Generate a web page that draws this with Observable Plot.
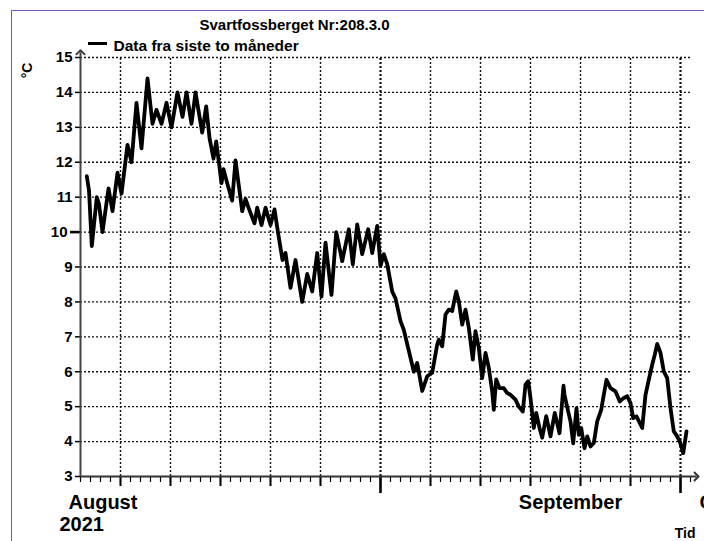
<!DOCTYPE html>
<html>
<head>
<meta charset="utf-8">
<script src="https://cdn.jsdelivr.net/npm/d3@7"></script>
<script src="https://cdn.jsdelivr.net/npm/@observablehq/plot@0.6"></script>
<style>
  html, body { margin: 0; padding: 0; background: #fff; overflow: hidden; width: 704px; height: 541px; }
  #wrap { position: relative; width: 704px; height: 541px; }
  #border { position: absolute; left: 11px; top: 10px; width: 800px; height: 800px; border: 1px solid #7b52c4; box-sizing: border-box; }
  #swatch { position: absolute; left: 88px; top: 42px; width: 19px; height: 3px; background: #000; }
  #chart { position: absolute; left: 0; top: 0; }
</style>
</head>
<body>
<div id="wrap">
  <div id="border"></div>
  <div id="chart"></div>
  <div id="swatch"></div>
</div>
<script>
// ---- data (day offsets from 2021-08-01 00:00 UTC, temperature °C) ----
const title = "Svartfossberget Nr:208.3.0";
const legendLabel = "Data fra siste to måneder";
const yUnit = "°C";
const xName = "Tid";

const days = [1.63, 1.85, 2.13, 2.63, 2.85, 3.2, 3.8, 4.2, 4.7, 5.1, 5.7, 6.1, 6.6, 7.1, 7.7, 8.2, 8.6, 9.1, 9.6, 10.1,
  10.7, 11.2, 11.6, 12.1, 12.5, 13.17, 13.57, 13.9, 14.3, 14.57, 15.1, 15.3, 15.67, 16.17, 16.5, 17.17, 17.5, 17.8, 18.4, 18.67,
  19.1, 19.5, 20.0, 20.4, 20.77, 21.2, 21.5, 22.0, 22.5, 23.17, 23.67, 24.17, 24.67, 25.1, 25.5, 26.1, 26.57, 27.17, 27.83, 28.23,
  28.67, 29.17, 29.77, 30.17, 30.67, 31.0, 31.33, 31.67, 32.17, 32.5, 33.0, 33.33, 34.0, 34.33, 34.67, 35.17, 35.67, 36.17, 36.67, 36.83,
  37.17, 37.5, 37.83, 38.17, 38.57, 38.83, 39.17, 39.5, 39.83, 40.23, 40.5, 40.83, 41.17, 41.5, 41.83, 42.17, 42.33, 42.57, 42.9, 43.33,
  43.67, 44.0, 44.5, 44.83, 45.23, 45.5, 45.77, 46.0, 46.33, 46.57, 46.9, 47.17, 47.57, 48.0, 48.43, 48.9, 49.3, 49.4, 49.73, 50.0,
  50.27, 50.6, 50.83, 51.07, 51.4, 51.67, 52.0, 52.33, 52.67, 53.07, 53.33, 53.6, 54.0, 54.5, 54.93, 55.33, 55.67, 56.0, 56.27, 56.6,
  57.17, 57.5, 57.83, 58.17, 58.43, 58.67, 59.0, 59.33, 59.67, 60.0, 60.33, 60.67, 60.93, 61.27, 61.6];

const temps = [11.6, 11.2, 9.6, 11.0, 10.8, 10.0, 11.25, 10.6, 11.7, 11.1, 12.5, 12.0, 13.7, 12.4, 14.4, 13.1, 13.5, 13.1, 13.7, 13.0,
  14.0, 13.3, 14.0, 13.1, 14.0, 12.85, 13.6, 12.7, 12.1, 12.6, 11.4, 11.8, 11.4, 10.9, 12.05, 10.6, 10.95, 10.7, 10.25, 10.7,
  10.2, 10.7, 10.2, 10.65, 9.95, 9.2, 9.4, 8.4, 9.2, 8.0, 8.8, 8.3, 9.4, 8.15, 9.7, 8.2, 10.0, 9.17, 10.08, 9.08,
  10.22, 9.37, 10.08, 9.4, 10.18, 9.03, 9.37, 9.08, 8.3, 8.1, 7.45, 7.2, 6.4, 6.0, 6.25, 5.45, 5.87, 5.97, 6.78, 6.92,
  6.73, 7.64, 7.78, 7.74, 8.3, 8.02, 7.35, 7.78, 7.26, 6.35, 7.16, 6.68, 5.82, 6.54, 6.11, 5.44, 4.91, 5.78, 5.53, 5.53,
  5.39, 5.34, 5.2, 5.0, 4.86, 5.63, 5.73, 5.25, 4.39, 4.82, 4.39, 4.11, 4.73, 4.15, 4.82, 4.24, 5.6, 5.34, 4.91, 4.58,
  3.95, 4.96, 4.19, 4.39, 3.81, 4.15, 3.86, 3.96, 4.58, 4.91, 5.34, 5.77, 5.53, 5.44, 5.15, 5.25, 5.3, 5.1, 4.67, 4.72,
  4.39, 5.34, 5.77, 6.2, 6.49, 6.8, 6.54, 6.01, 5.82, 4.96, 4.29, 4.15, 4.0, 3.67, 4.29];

const yTicks = [3, 4, 5, 6, 7, 8, 9, 11, 12, 13, 14, 15];
const yMajorTick = [10];
const yGrid = [4, 5, 6, 7, 8, 9, 10, 11, 12, 13, 14, 15];
const gridDays = [5, 10, 15, 20, 25, 36, 41, 46, 51, 56];   // Aug 6..26, Sep 6..26
const monthDays = [31, 61];                                 // Sep 1, Oct 1
const dailyTicks = d3.range(1, 63);                         // every day
const monthLabels = ["August", "September", "Oktober"];
const yearLabel = "2021";

// ---- helpers ----
const origin = Date.UTC(2021, 7, 1);
const toDate = d => new Date(origin + d * 864e5);
const series = days.map((d, i) => ({date: toDate(d), temp: temps[i]}));
const xStart = toDate(1), xEnd = toDate(62.8), gridEnd = toDate(62);

const chart = Plot.plot({
  width: 704,
  height: 541,
  marginLeft: 80,
  marginRight: 6,
  marginTop: 57,
  marginBottom: 65,
  x: {type: "utc", domain: [xStart, xEnd]},
  y: {domain: [3, 15]},
  style: {fontFamily: "'Liberation Sans', Arial, Helvetica, sans-serif", fontSize: "15px", fontWeight: "bold", color: "#000", background: "transparent", overflow: "visible"},
  marks: [
    // grid
    Plot.ruleY(yGrid, {x1: () => xStart, x2: () => gridEnd, stroke: "#111", strokeWidth: 1.4, strokeDasharray: "2,2"}),
    Plot.ruleX(gridDays.map(toDate), {y1: 3, y2: 15, stroke: "#111", strokeWidth: 1.4, strokeDasharray: "2,2"}),
    Plot.ruleX(monthDays.map(toDate), {y1: 3, y2: 15, stroke: "#111", strokeWidth: 2.2, strokeDasharray: "2,2"}),
    // x ticks
    Plot.axisX({ticks: dailyTicks.map(toDate), tickSize: 6, strokeWidth: 1.2, stroke: "#000", fill: "none", tickFormat: () => ""}),
    Plot.axisX({ticks: gridDays.map(toDate), tickSize: 10, strokeWidth: 2, stroke: "#000", fill: "none", tickFormat: () => ""}),
    Plot.axisX({ticks: monthDays.map(toDate), tickSize: 17, strokeWidth: 2.6, stroke: "#000", fill: "none", tickFormat: () => ""}),
    // y ticks + labels
    Plot.axisY({ticks: yTicks, tickSize: 5, tickPadding: 3, strokeWidth: 1.5, fontSize: 15, fontWeight: "bold", tickFormat: d => String(d), label: null}),
    Plot.axisY({ticks: yMajorTick, tickSize: 10, tickPadding: 3, strokeWidth: 2.6, fontSize: 15, fontWeight: "bold", tickFormat: d => String(d), label: null}),
    // axis lines with arrows
    Plot.link([{x1: xStart, x2: toDate(62.6), y1: 3, y2: 3}], {x1: "x1", x2: "x2", y1: "y1", y2: "y2", stroke: "#333", strokeWidth: 2, markerEnd: "arrow"}),
    Plot.link([{x1: xStart, x2: xStart, y1: 3, y2: 15.15}], {x1: "x1", x2: "x2", y1: "y1", y2: "y2", stroke: "#444", strokeWidth: 2, markerEnd: "arrow"}),
    // data line
    Plot.line(series, {x: "date", y: "temp", stroke: "#000", strokeWidth: 3.8, strokeLinejoin: "round", strokeLinecap: "round"}),
    // month / year labels
    Plot.text([monthLabels[0]], {x: () => toDate(0), frameAnchor: "bottom", textAnchor: "start", lineAnchor: "bottom", dx: -2, dy: 32, fontSize: 20, fontWeight: "bold"}),
    Plot.text([yearLabel], {x: () => toDate(0), frameAnchor: "bottom", textAnchor: "start", lineAnchor: "bottom", dx: -11, dy: 54, fontSize: 20, fontWeight: "bold"}),
    Plot.text([monthLabels[1]], {x: () => toDate(50), frameAnchor: "bottom", textAnchor: "middle", lineAnchor: "bottom", dy: 32, fontSize: 20, fontWeight: "bold"}),
    Plot.text([monthLabels[2]], {x: () => toDate(62.9), frameAnchor: "bottom", textAnchor: "start", lineAnchor: "bottom", dy: 32, fontSize: 20, fontWeight: "bold"}),
    Plot.text([xName], {frameAnchor: "bottom-right", textAnchor: "end", lineAnchor: "bottom", dx: -3, dy: 61, fontSize: 14, fontWeight: "bold"}),
    // y unit
    Plot.text([yUnit], {frameAnchor: "top-left", textAnchor: "middle", lineAnchor: "middle", rotate: -90, dx: -53, dy: 13, fontSize: 14, fontWeight: "bold"}),
    // title and legend label
    Plot.text([title], {frameAnchor: "top-left", textAnchor: "start", lineAnchor: "bottom", dx: 119, dy: -28, fontSize: 15, fontWeight: "bold"}),
    Plot.text([legendLabel], {frameAnchor: "top-left", textAnchor: "start", lineAnchor: "bottom", dx: 33, dy: -7, fontSize: 15.5, fontWeight: "bold"})
  ]
});
document.getElementById("chart").appendChild(chart);
</script>
</body>
</html>
